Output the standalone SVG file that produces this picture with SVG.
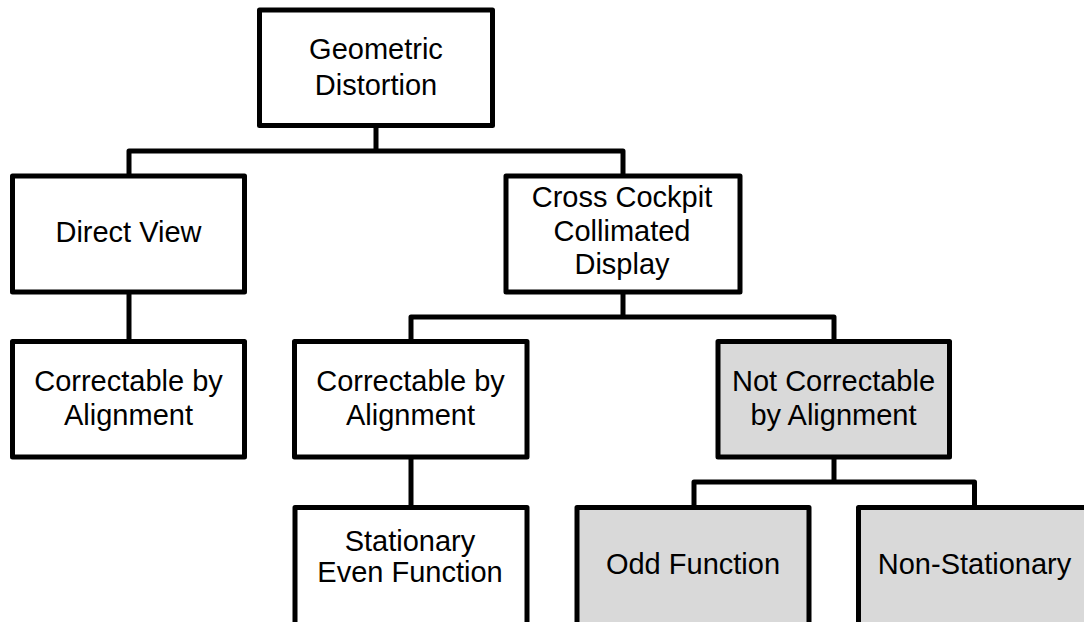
<svg xmlns="http://www.w3.org/2000/svg" width="1084" height="622" viewBox="0 0 1084 622">
<style>
.box{fill:#ffffff;stroke:#000000;stroke-width:5;stroke-linejoin:round}
.grey{fill:#d9d9d9}
.conn{fill:none;stroke:#000000;stroke-width:5;stroke-linejoin:round;stroke-linecap:butt}
text{font-family:"Liberation Sans",Arial,sans-serif;font-size:29px;fill:#000000;text-anchor:middle}
</style>
<rect x="0" y="0" width="1084" height="622" fill="#ffffff"/>
<g id="connectors">
<path class="conn" d="M376,125.5 V151 M129,176 V151 H623 V176"/>
<path class="conn" d="M129,292 V341.5"/>
<path class="conn" d="M623,292 V317 M411,341.5 V317 H834 V341.5"/>
<path class="conn" d="M411,457 V507.5"/>
<path class="conn" d="M834,457 V482 M694,507.5 V482 H974.5 V507.5"/>
</g>
<g id="n-geometric">
<rect class="box" x="259.5" y="10" width="233" height="115.5"/>
<text x="376" y="58.5">Geometric</text>
<text x="376" y="94.5">Distortion</text>
</g>
<g id="n-direct">
<rect class="box" x="12.5" y="176" width="232" height="116"/>
<text x="128.5" y="242">Direct View</text>
</g>
<g id="n-cross">
<rect class="box" x="506" y="176" width="234" height="116"/>
<text x="622" y="207">Cross Cockpit</text>
<text x="622" y="241">Collimated</text>
<text x="622" y="274">Display</text>
</g>
<g id="n-correctable-left">
<rect class="box" x="12.5" y="341.5" width="232" height="115.5"/>
<text x="128.5" y="391">Correctable by</text>
<text x="128.5" y="425">Alignment</text>
</g>
<g id="n-correctable-mid">
<rect class="box" x="294.5" y="341.5" width="232.5" height="115.5"/>
<text x="410.5" y="391">Correctable by</text>
<text x="410.5" y="425">Alignment</text>
</g>
<g id="n-not-correctable">
<rect class="box grey" x="718" y="341.5" width="231.5" height="115.5"/>
<text x="833.5" y="391">Not Correctable</text>
<text x="833.5" y="425">by Alignment</text>
</g>
<g id="n-stationary">
<rect class="box" x="295" y="507.5" width="232" height="140"/>
<text x="410" y="551">Stationary</text>
<text x="410" y="582">Even Function</text>
</g>
<g id="n-odd">
<rect class="box grey" x="577" y="507.5" width="232" height="140"/>
<text x="693" y="574">Odd Function</text>
</g>
<g id="n-nonstationary">
<rect class="box grey" x="858.5" y="507.5" width="232" height="140"/>
<text x="974.5" y="574">Non-Stationary</text>
</g>
</svg>
